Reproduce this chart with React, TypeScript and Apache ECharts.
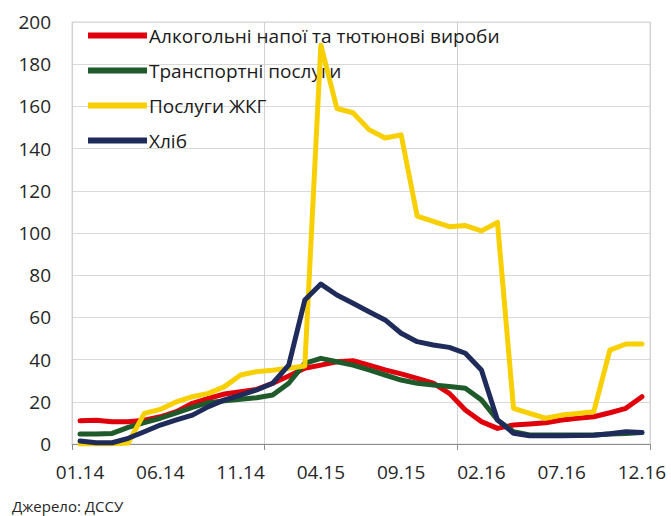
import React, { useEffect, useRef } from "react";
import * as echarts from "echarts";

const categories: string[] = [
  "01.14", "02.14", "03.14", "04.14", "05.14", "06.14", "07.14", "08.14", "09.14", "10.14", "11.14", "12.14",
  "01.15", "02.15", "03.15", "04.15", "05.15", "06.15", "07.15", "08.15", "09.15", "10.15", "11.15", "12.15",
  "01.16", "02.16", "03.16", "04.16", "05.16", "06.16", "07.16", "08.16", "09.16", "10.16", "11.16", "12.16",
];

const alcohol: number[] = [
  11, 11.3, 10.5, 10.5, 11.3, 12.9, 15.3, 19.3, 21.6, 23.7, 24.8, 25.9,
  28.8, 32.2, 35.9, 37.4, 39.0, 39.5, 37.4, 35.1, 33.2, 31.1, 28.8, 24.0,
  16.1, 10.6, 7.4, 9.0, 9.5, 10.1, 11.4, 12.2, 12.9, 14.8, 16.9, 22.4,
];

const transport: number[] = [
  4.7, 4.7, 5.0, 7.9, 10.1, 12.2, 14.8, 17.4, 19.6, 20.5, 21.2, 21.9,
  23.2, 28.8, 38.2, 40.6, 39.0, 37.4, 35.1, 32.7, 30.3, 28.8, 28.0, 27.2,
  26.4, 20.9, 11.4, 5.8, 4.3, 4.3, 4.3, 4.3, 4.3, 4.7, 5.0, 5.4,
];

const housing: number[] = [
  0, 0, 0, 0.5, 14.5, 16.4, 20.0, 22.4, 24.0, 27.2, 32.7, 34.3,
  35.0, 35.9, 37.0, 189, 159, 157, 149, 145, 146.5, 108, 105.5, 103,
  103.5, 101, 105, 16.9, 14.5, 12.2, 13.7, 14.5, 15.3, 44.5, 47.4, 47.4,
];

const bread: number[] = [
  1.4, 0.6, 0.6, 2.7, 5.8, 9.0, 11.4, 13.7, 17.7, 20.9, 23.2, 25.6,
  28.8, 37.4, 68.2, 75.8, 70.6, 66.7, 62.7, 58.8, 52.5, 48.5, 46.9, 45.8,
  43.0, 35.1, 11.4, 5.1, 3.9, 3.9, 3.9, 4.0, 4.2, 4.9, 5.8, 5.5,
];

const seriesNames: string[] = [
  "Алкогольні напої та тютюнові вироби",
  "Транспортні послуги",
  "Послуги ЖКГ",
  "Хліб",
];

const colors: string[] = ["#e0000b", "#1f5a2a", "#f8cf00", "#1f2b5a"];

const sourceText = "Джерело: ДССУ";

const FONT = "'Open Sans', sans-serif";

export default function App() {
  const ref = useRef<HTMLDivElement>(null);

  useEffect(() => {
    if (!ref.current) return;
    const chart = echarts.init(ref.current, undefined, { renderer: "svg" });
    const dataSets = [alcohol, transport, housing, bread];
    const yearBoundary = (index: number) => index % 12 === 0;
    chart.setOption({
      animation: false,
      backgroundColor: "#ffffff",
      textStyle: { fontFamily: FONT },
      grid: {
        left: 72,
        right: 21,
        top: 22,
        bottom: 72,
        show: true,
        borderColor: "#d9d9d9",
        borderWidth: 1,
      },
      legend: {
        orient: "vertical",
        left: 88,
        top: 24,
        padding: 0,
        itemWidth: 59,
        itemHeight: 6,
        itemGap: 12,
        icon: "rect",
        textStyle: {
          fontFamily: FONT,
          fontSize: 19,
          color: "#1a1a1a",
          lineHeight: 23,
          padding: [0, 0, 0, -3],
        },
        data: seriesNames,
      },
      xAxis: {
        type: "category",
        data: categories,
        boundaryGap: true,
        axisLine: { show: true, lineStyle: { color: "#8c8c8c", width: 1 } },
        axisTick: {
          show: true,
          interval: yearBoundary,
          length: 6,
          lineStyle: { color: "#8c8c8c" },
        },
        axisLabel: {
          interval: 4,
          fontFamily: FONT,
          fontSize: 19,
          color: "#262626",
          margin: 18,
        },
        splitLine: {
          show: true,
          interval: yearBoundary,
          lineStyle: { color: "#d0d0d0", width: 1 },
        },
      },
      yAxis: {
        type: "value",
        min: 0,
        max: 200,
        interval: 20,
        axisLine: { show: false },
        axisTick: { show: false },
        axisLabel: {
          fontFamily: FONT,
          fontSize: 19,
          color: "#262626",
          margin: 21,
        },
        splitLine: { show: true, lineStyle: { color: "#d9d9d9", width: 1 } },
      },
      series: seriesNames.map((name, i) => ({
        name,
        type: "line",
        data: dataSets[i],
        symbol: "none",
        smooth: false,
        lineStyle: { color: colors[i], width: 5, join: "round", cap: "round" },
        itemStyle: { color: colors[i] },
        z: 2 + i,
      })),
      graphic: [
        {
          type: "text",
          left: 12,
          top: 498,
          style: {
            text: sourceText,
            fontFamily: FONT,
            fontSize: 15,
            fill: "#262626",
          },
        },
      ],
    });
    return () => {
      chart.dispose();
    };
  }, []);

  return (
    <div
      ref={ref}
      style={{ position: "fixed", left: 0, top: 0, width: 671, height: 516 }}
    />
  );
}
